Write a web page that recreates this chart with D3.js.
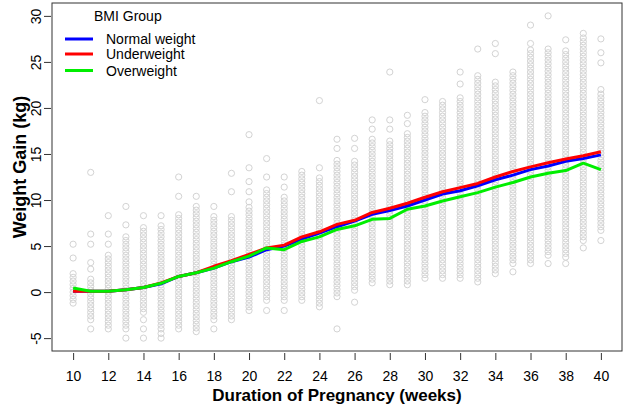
<!DOCTYPE html>
<html><head><meta charset="utf-8">
<script src="https://cdn.jsdelivr.net/npm/d3@7"></script>
<style>body{margin:0;background:#fff}svg{display:block;font-family:"Liberation Sans",Arial,sans-serif}</style>
</head><body><svg id="c" width="625" height="406"></svg>
<script>
// Weeks of pregnancy
const weeks = [10,11,12,13,14,15,16,17,18,19,20,21,22,23,24,25,26,27,28,29,30,31,32,33,34,35,36,37,38,39,40];
// Mean weight gain (kg) per BMI group
const normalMean = [0.1,0.1,0.1,0.25,0.5,0.9,1.7,2.1,2.6,3.3,3.8,4.6,5.0,5.75,6.4,7.1,7.7,8.45,8.85,9.35,10.0,10.65,11.0,11.55,12.2,12.7,13.3,13.7,14.2,14.5,14.9];
const underMean  = [0.1,0.1,0.1,0.25,0.5,1.0,1.7,2.1,2.8,3.4,4.1,4.8,5.1,6.0,6.55,7.35,7.8,8.65,9.1,9.65,10.3,10.9,11.35,11.8,12.5,13.1,13.6,14.05,14.45,14.8,15.25];
const overMean   = [0.45,0.1,0.1,0.25,0.5,0.95,1.7,2.1,2.6,3.3,3.9,4.8,4.6,5.5,6.0,6.8,7.2,7.9,8.0,9.0,9.35,9.9,10.35,10.8,11.4,11.9,12.5,12.9,13.2,14.0,13.3];
// Individual weight gains: dense stacked range per week [low, high] plus isolated values
const denseRange = [[-1.2,2.0],[-3,1.5],[-4,4.3],[-4,6],[-2.2,7.1],[-4,7.5],[-4,8.6],[-4.3,9.6],[-3,8.3],[-3,8.5],[-2,9.2],[-0.9,11.4],[-0.9,10.5],[-0.9,13.3],[-1.6,12.4],[-0.5,14.6],[0.2,14.5],[1.0,16.7],[0.8,16.7],[0.8,17.4],[1.5,19.8],[1.5,20.9],[1.5,21.4],[1.1,23.6],[2.0,23.0],[3.1,23.9],[3.1,26.3],[4.0,26.6],[3.8,26.5],[5.6,27.7],[6.7,21.5]];
const isolated = [[5.2,3.7],[13.0,6.3,5.2,3.2,2.5,-4],[8.3,6.3,5.2],[9.3,7.3,-5],[8.3,-3,-4,-5],[8.3,-4.5,-5],[12.5,10.4],[10.4],[9.3,-4],[12.9,10.9],[17.1,13.5,12.0,10.9,9.8],[14.5,12.5,-2],[12.5,11.4,-2],[],[20.8,13.5],[16.6,15.6,-4],[16.7,15.6,-1.1],[18.7,17.7],[23.9,18.7,17.7],[19.2,18.3],[20.9],[],[23.9,22.6],[26.4],[27.0,25.9],[2.2],[29.0,27.0],[30.0,3.1],[27.4,3.1],[28.1,4.8],[27.5,26.0,24.9,22.0,5.6]];
const xTicks = d3.range(10, 41, 2);
const yTicks = [-5,0,5,10,15,20,25,30];
const groups = ["Normal weight","Underweight","Overweight"];
const colors = ["#0000ff","#ff0000","#00ee00"];

const svg = d3.select("#c");
const L=52,R=622,T=3,B=351;
const x = d3.scaleLinear().domain([8.8,41.2]).range([L,R]);
const y = d3.scaleLinear().domain([-6.4,31.4]).range([B,T]);

// scatter points
const pts = [];
weeks.forEach((w,i)=>{
  const [lo,hi]=denseRange[i];
  for(let v=lo; v<=hi+1e-9; v+=0.4) pts.push([w,v]);
  isolated[i].forEach(v=>pts.push([w,v]));
});
svg.append("g").selectAll("circle").data(pts).join("circle")
  .attr("cx",d=>x(d[0])).attr("cy",d=>y(d[1])).attr("r",3.1)
  .attr("fill","none").attr("stroke","#d3d3d3").attr("stroke-width",1);

// lines
const line = d3.line().x((d,i)=>x(weeks[i])).y(d=>y(d));
[normalMean,underMean,overMean].forEach((s,k)=>{
  svg.append("path").attr("d",line(s)).attr("fill","none")
    .attr("stroke",colors[k]).attr("stroke-width",3).attr("stroke-linejoin","round");
});

// box
svg.append("rect").attr("x",L).attr("y",T).attr("width",R-L).attr("height",B-T)
  .attr("fill","none").attr("stroke","#333").attr("stroke-width",1);

// x axis
const xa = svg.append("g").attr("transform",`translate(0,${B+2})`)
  .call(d3.axisBottom(x).tickValues(xTicks).tickSize(7).tickSizeOuter(0).tickPadding(11));
xa.select(".domain").remove();
xa.selectAll("line").attr("stroke","#333");
xa.selectAll("text").attr("font-size",14).attr("fill","#000").attr("font-family","Liberation Sans, Arial, sans-serif");

// y axis
const ya = svg.append("g").attr("transform",`translate(${L-1},0)`)
  .call(d3.axisLeft(y).tickValues(yTicks).tickSize(7).tickSizeOuter(0));
ya.select(".domain").remove();
ya.selectAll("line").attr("stroke","#333");
ya.selectAll("text").remove();
ya.selectAll(".tick").append("text")
  .attr("transform","translate(-15,0) rotate(-90)")
  .attr("text-anchor","middle").attr("dy","0.35em")
  .attr("font-size",14).attr("fill","#000").text(d=>d);

// titles
svg.append("text").attr("x",(L+R)/2).attr("y",401).attr("text-anchor","middle")
  .attr("font-size",17).attr("font-weight","bold").text("Duration of Pregnancy (weeks)");
svg.append("text").attr("transform",`translate(26,167) rotate(-90)`)
  .attr("text-anchor","middle").attr("font-size",18).attr("font-weight","bold").text("Weight Gain (kg)");

// legend
const lg = svg.append("g");
lg.append("text").attr("x",94).attr("y",21).attr("font-size",14).text("BMI Group");
groups.forEach((g,i)=>{
  const yy=[39,54,70.5][i];
  lg.append("line").attr("x1",65).attr("x2",93).attr("y1",yy).attr("y2",yy)
    .attr("stroke",colors[i]).attr("stroke-width",3);
  lg.append("text").attr("x",106).attr("y",yy+5).attr("font-size",14).text(g);
});
</script></body></html>
